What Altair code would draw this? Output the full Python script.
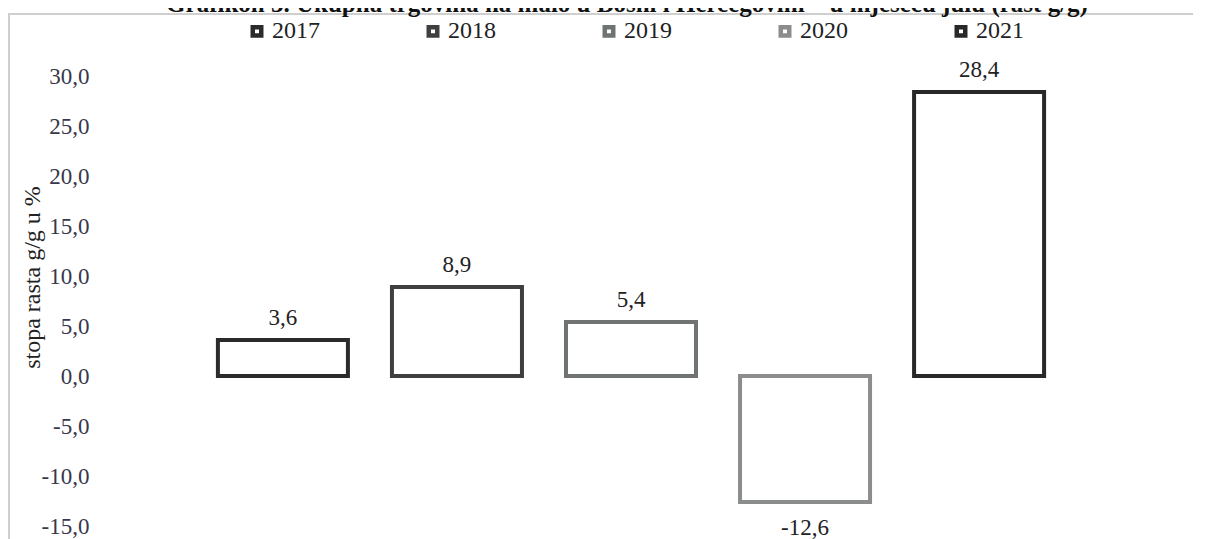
import altair as alt
import pandas as pd

years = ["2017", "2018", "2019", "2020", "2021"]
values = [3.6, 8.9, 5.4, -12.6, 28.4]
value_labels = ["3,6", "8,9", "5,4", "-12,6", "28,4"]
stroke_colors = ["#2b2b2b", "#3e403f", "#6f7472", "#8b8d8c", "#282828"]
y_ticks = [-15, -10, -5, 0, 5, 10, 15, 20, 25, 30]

title_text = "Grafikon 3. Ukupna trgovina na malo u Bosni i Hercegovini – u mjesecu julu (rast g/g)"
y_title = "stopa rasta g/g u %"

FONT = "Liberation Serif"
W, H = 1042, 450
PAD_L, PAD_T = 102, 68

df = pd.DataFrame({"godina": years, "vrijednost": values, "oznaka": value_labels})

x_enc = alt.X(
    "godina:N",
    sort=years,
    axis=None,
    scale=alt.Scale(paddingInner=0.253, paddingOuter=0.62),
)
y_enc = alt.Y(
    "vrijednost:Q",
    scale=alt.Scale(domain=[-15, 30], nice=False, zero=True),
    axis=alt.Axis(
        values=y_ticks,
        labelExpr="replace(replace(format(datum.value, '.1f'), '.', ','), '\u2212', '-')",
        title=y_title,
        titleFont=FONT,
        titleFontSize=24,
        titleFontWeight="normal",
        titleColor="#222222",
        titleX=-78,
        titleY=201,
        titleAngle=270,
        titleAlign="center",
        titleBaseline="middle",
        labelFont=FONT,
        labelFontSize=23,
        labelColor="#38384a",
        labelPadding=21,
        ticks=False,
        tickSize=0,
        domain=False,
        grid=False,
    ),
)

base = alt.Chart(df)

bars = base.mark_bar(fill="white", strokeWidth=4).encode(
    x=x_enc,
    y=y_enc,
    stroke=alt.Stroke(
        "godina:N",
        sort=years,
        scale=alt.Scale(domain=years, range=stroke_colors),
        legend=alt.Legend(
            title=None,
            orient="none",
            legendX=135,
            legendY=-57,
            direction="horizontal",
            columns=5,
            columnPadding=99,
            symbolType="square",
            symbolSize=72,
            symbolStrokeWidth=4.5,
            symbolFillColor="white",
            labelFont=FONT,
            labelFontSize=24,
            labelColor="#222222",
            labelOffset=3,
        ),
    ),
)

pos_labels = base.transform_filter("datum.vrijednost >= 0").mark_text(
    font=FONT, fontSize=23, color="#222222", baseline="alphabetic", dy=-15
).encode(x=x_enc, y=alt.Y("vrijednost:Q"), text="oznaka:N")

neg_labels = base.transform_filter("datum.vrijednost < 0").mark_text(
    font=FONT, fontSize=23, color="#222222", baseline="alphabetic", dy=33
).encode(x=x_enc, y=alt.Y("vrijednost:Q"), text="oznaka:N")

one = pd.DataFrame({"t": [title_text]})

title_mark = alt.Chart(one).mark_text(
    font=FONT, fontSize=25, fontWeight="bold", color="#111111",
    align="center", baseline="alphabetic"
).encode(x=alt.value(517), y=alt.value(-64), text="t:N")

frame_top = alt.Chart(one).mark_rule(color="#cfcfcf", strokeWidth=2).encode(
    x=alt.value(-102), x2=alt.value(W + 41), y=alt.value(-62)
)
frame_left = alt.Chart(one).mark_rule(color="#cfcfcf", strokeWidth=2).encode(
    x=alt.value(-101), y=alt.value(-62), y2=alt.value(H + 13)
)

chart = (
    alt.layer(frame_top, frame_left, bars, pos_labels, neg_labels, title_mark)
    .properties(
        width=W,
        height=H,
        autosize=alt.AutoSizeParams(type="none"),
        padding={"left": PAD_L, "top": PAD_T, "right": 41, "bottom": 13},
        background="white",
    )
    .configure_view(stroke=None)
)

chart.save("out.html", embed_options={"renderer": "svg", "actions": False})
